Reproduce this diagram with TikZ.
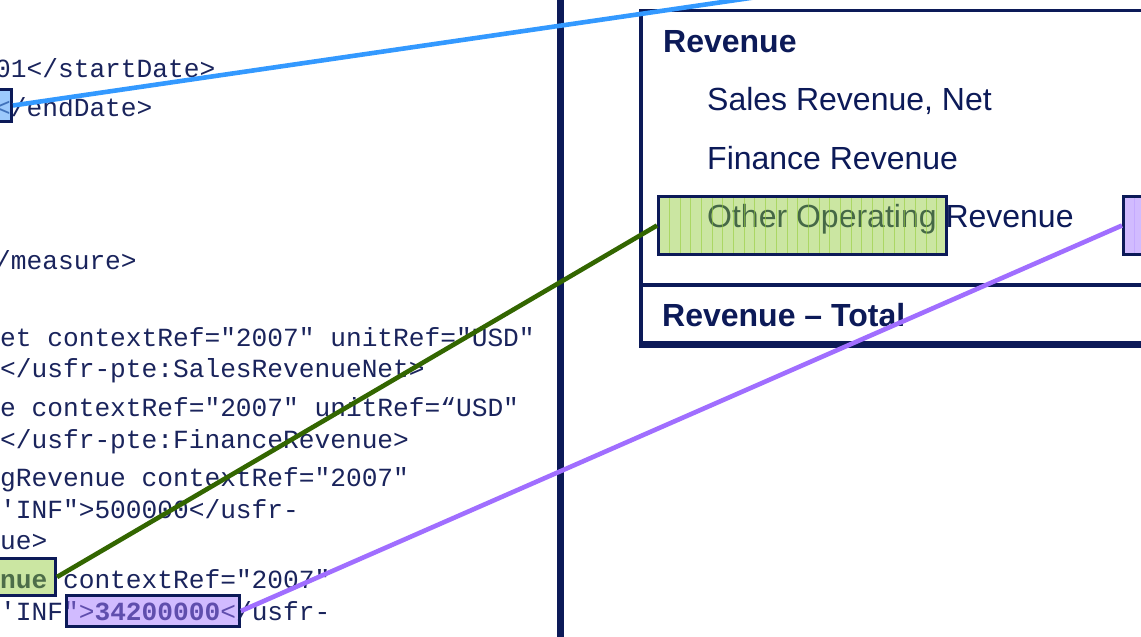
\documentclass[tikz,border=0pt]{standalone}
\usepackage{fontspec}
\setmainfont{Liberation Sans}
\newfontfamily\codefont{Liberation Mono}
\usetikzlibrary{calc}
\definecolor{navy}{RGB}{12,26,88}
\definecolor{codecol}{RGB}{26,36,92}
\definecolor{bluefill}{RGB}{90,165,250}
\definecolor{greenfill}{RGB}{140,200,50}
\definecolor{purplefill}{RGB}{165,120,255}
\definecolor{blueline}{RGB}{51,153,255}
\definecolor{greenline}{RGB}{51,102,0}
\definecolor{purpleline}{RGB}{160,110,255}
\definecolor{gstripe}{RGB}{150,205,60}
\definecolor{pstripe}{RGB}{190,160,255}
\tikzset{
  code/.style={font=\codefont\fontsize{26.2}{26.2}\selectfont, text=codecol, inner sep=0, anchor=base west},
  lab/.style={font=\fontsize{32}{32}\selectfont, text=navy, inner sep=0, anchor=base west},
  blab/.style={lab, font=\bfseries\fontsize{32}{32}\selectfont},
  hl/.style={draw=navy, line width=3pt, inner sep=0, anchor=north west},
  gbox/.style={hl, fill=greenfill, fill opacity=.45},
  pbox/.style={hl, fill=purplefill, fill opacity=.5},
  bbox/.style={hl, fill=bluefill, fill opacity=.6},
  rule/.style={draw=navy},
  conn/.style={line width=4.6pt},
}
\begin{document}
\begin{tikzpicture}[x=1pt,y=-1pt]
\useasboundingbox (0,0) rectangle (1141,637);
\clip (0,0) rectangle (1141,637);
\fill[white] (0,0) rectangle (1141,637);

% code listing
\node[code] (c1) at (-5,77) {01</startDate>};
\node[code] (c2) at (-5,116) {</endDate>};
\node[code] (c3) at (-5,269) {/measure>};
\node[code] (c4) at (0,346) {et contextRef="2007" unitRef="USD"};
\node[code] (c5) at (0,377) {</usfr-pte:SalesRevenueNet>};
\node[code] (c6) at (0,416) {e contextRef="2007" unitRef=“USD"};
\node[code] (c7) at (0,448) {</usfr-pte:FinanceRevenue>};
\node[code] (c8) at (0,486) {gRevenue contextRef="2007"};
\node[code] (c9) at (0,518) {\textquotesingle INF">500000</usfr-};
\node[code] (c10) at (0,549) {ue>};
\node[code] (c11) at (0,588) {\textbf{nue} contextRef="2007"};
\node[code] (c12) at (0,620) {\textquotesingle INF">\textbf{34200000}</usfr-};

% divider
\draw[rule, line width=7pt] (560.5,0) -- (560.5,637);

% right panel
\draw[rule, line width=4pt] (641,9) -- (641,348);
\draw[rule, line width=3pt] (639,10.5) -- (1145,10.5);
\draw[rule, line width=4pt] (641,285) -- (1145,285);
\draw[rule, line width=7pt] (639,344.5) -- (1145,344.5);

\node[blab] (rev) at (663,52) {Revenue};
\node[lab] (srn) at (707,110) {Sales Revenue, Net};
\node[lab] (fr) at (707,169) {Finance Revenue};
\node[lab] (oor) at (707,227) {Other Operating Revenue};
\node[blab] (rt) at (662,326) {Revenue – Total};

% highlight boxes
\node[bbox, minimum width=70, minimum height=32] (bcode) at (-60,88) {};
\node[gbox, minimum width=94, minimum height=37] (gcode) at (-40,557) {};
\node[pbox, minimum width=173, minimum height=31] (pcode) at (65,594) {};
\node[gbox, minimum width=288, minimum height=58,
  path picture={\foreach \k in {1,...,26}{
     \draw[gstripe, line width=.8pt, draw opacity=.6] ($(path picture bounding box.north west)+(\k*10.7,0)$) -- ++(0,60);}}] (glab) at (657,195) {};
\node[pbox, minimum width=60, minimum height=58,
  path picture={\foreach \k in {1,...,5}{
     \draw[pstripe, line width=.8pt, draw opacity=.6] ($(path picture bounding box.north west)+(\k*10.7,0)$) -- ++(0,60);}}] (plab) at (1122,195) {};

% connectors
\coordinate (btarget) at (1141,-59);
\draw[conn, blueline] (bcode.east) -- (btarget);
\draw[conn, greenline] (gcode.east) -- (glab.west);
\draw[conn, purpleline] (pcode.east) -- (plab.west);
\end{tikzpicture}
\end{document}
